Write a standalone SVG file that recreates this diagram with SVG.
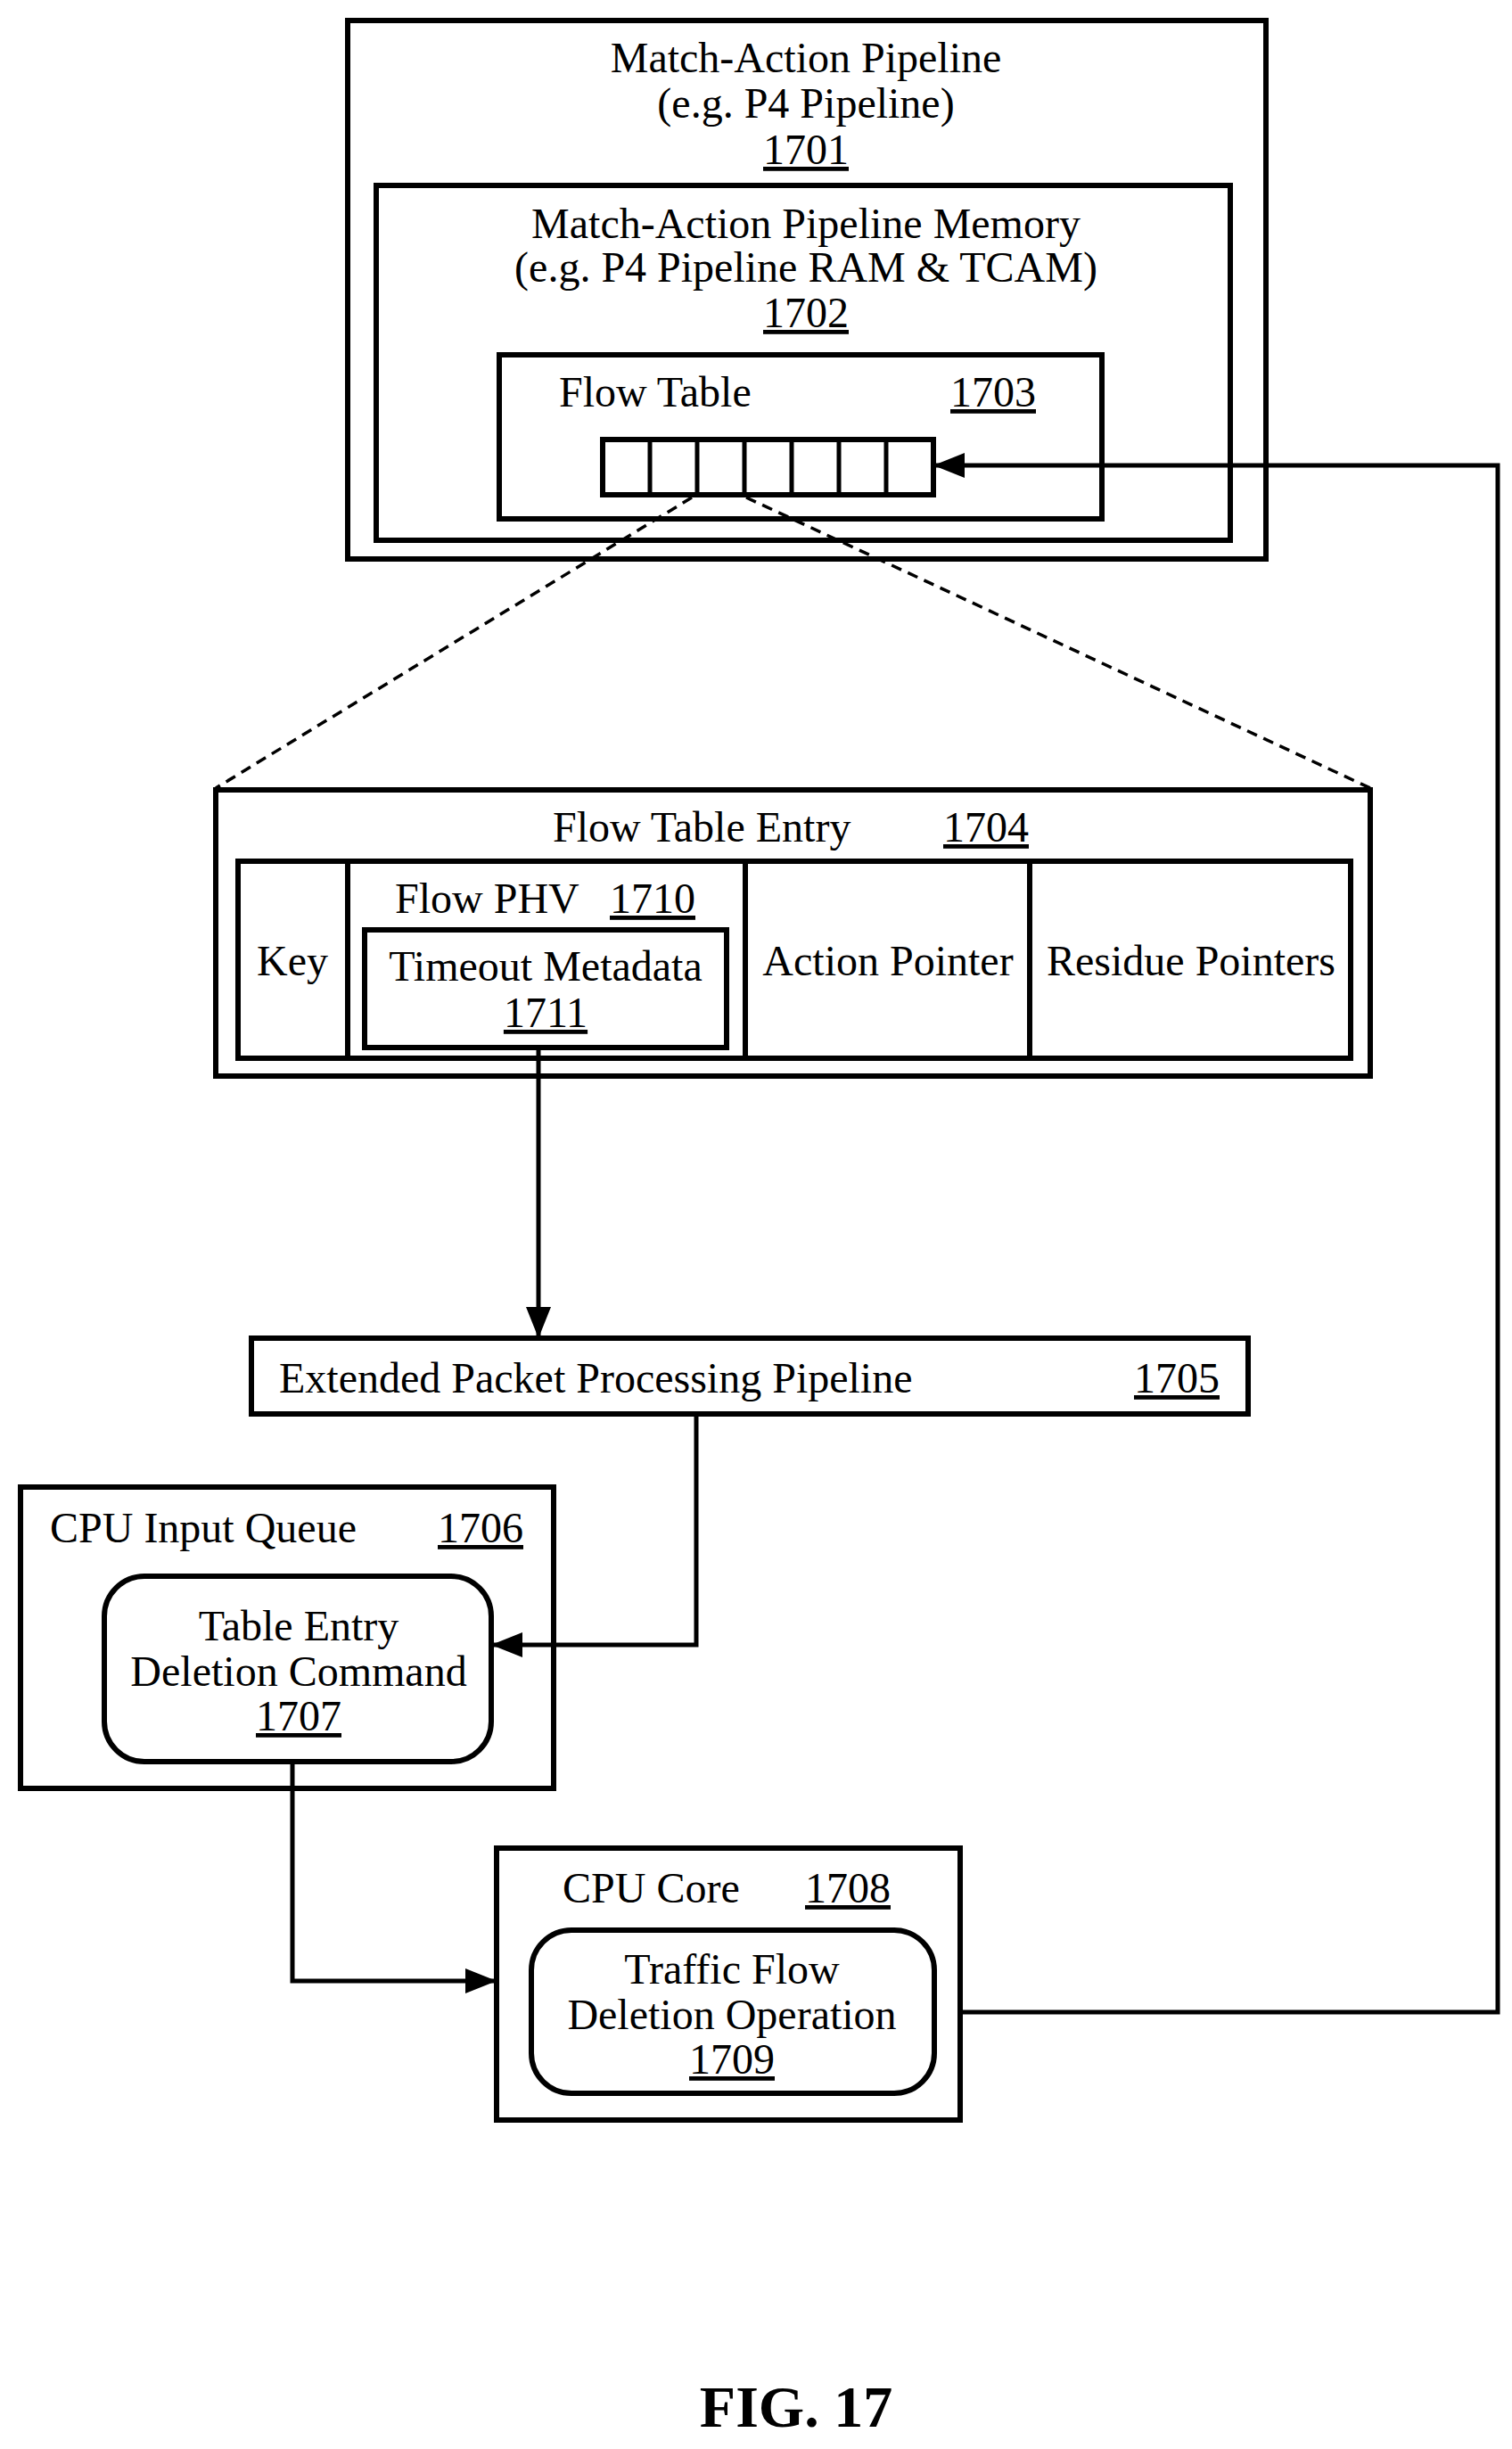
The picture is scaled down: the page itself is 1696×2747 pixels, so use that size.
<svg xmlns="http://www.w3.org/2000/svg" width="1696" height="2747" viewBox="0 0 1696 2747">
<style>
text{font-family:"Liberation Serif","Times New Roman",serif;font-size:48px;fill:#000}
.c{text-anchor:middle}
.b{fill:none;stroke:#000;stroke-width:6}
.l{fill:none;stroke:#000;stroke-width:5}
.d{fill:none;stroke:#000;stroke-width:3.5;stroke-dasharray:12,8}
</style>
<defs>
<marker id="ah" viewBox="0 0 10 8" refX="10" refY="4" markerWidth="40" markerHeight="28" orient="auto" markerUnits="userSpaceOnUse"><path d="M0,0L10,4L0,8z"/></marker></defs>
<g id="n1701"><rect class="b" x="390" y="23" width="1030" height="604"/>
<text class="c" x="904" y="81">Match-Action Pipeline</text><text class="c" x="904" y="132">(e.g. P4 Pipeline)</text><text class="c" x="904" y="184" text-decoration="underline">1701</text></g>
<g id="n1702"><rect class="b" x="422" y="208" width="958" height="398"/>
<text class="c" x="904" y="267">Match-Action Pipeline Memory</text><text class="c" x="904" y="316">(e.g. P4 Pipeline RAM &amp; TCAM)</text><text class="c" x="904" y="367" text-decoration="underline">1702</text></g>
<g id="n1703"><rect class="b" x="560" y="398" width="676" height="184"/>
<text x="627" y="456">Flow Table</text><text x="1066" y="456" text-decoration="underline">1703</text>
<rect class="b" x="676" y="493" width="371" height="62"/>
<path class="l" d="M729,493V555M782,493V555M835,493V555M888,493V555M941,493V555M994,493V555"/></g>
<g id="n1704"><rect class="b" x="242" y="886" width="1295" height="321"/>
<rect class="b" x="267" y="966" width="1248" height="221"/>
<path class="b" d="M390,966V1187M836,966V1187M1155,966V1187"/>
<text x="620" y="944">Flow Table Entry</text><text x="1058" y="944" text-decoration="underline">1704</text>
<text class="c" x="328" y="1094">Key</text>
<text x="443" y="1024">Flow PHV</text><text x="684" y="1024" text-decoration="underline">1710</text>
<text class="c" x="996" y="1094">Action Pointer</text><text class="c" x="1336" y="1094">Residue Pointers</text></g>
<g id="n1711"><rect class="b" x="409" y="1043" width="406" height="132"/>
<text class="c" x="612" y="1100">Timeout Metadata</text><text class="c" x="612" y="1152" text-decoration="underline">1711</text></g>
<g id="n1705"><rect class="b" x="282" y="1501" width="1118" height="85"/>
<text x="313" y="1562">Extended Packet Processing Pipeline</text><text x="1368" y="1562" text-anchor="end" text-decoration="underline">1705</text></g>
<g id="n1706"><rect class="b" x="23" y="1668" width="598" height="338"/>
<text x="56" y="1730">CPU Input Queue</text><text x="491" y="1730" text-decoration="underline">1706</text></g>
<g id="n1707"><rect class="b" x="117" y="1768" width="434" height="208" rx="45"/>
<text class="c" x="335" y="1840">Table Entry</text><text class="c" x="335" y="1891">Deletion Command</text><text class="c" x="335" y="1941" text-decoration="underline">1707</text></g>
<g id="n1708"><rect class="b" x="557" y="2073" width="520" height="305"/>
<text x="631" y="2134">CPU Core</text><text x="903" y="2134" text-decoration="underline">1708</text></g>
<g id="n1709"><rect class="b" x="596" y="2165" width="452" height="183" rx="45"/>
<text class="c" x="821" y="2225">Traffic Flow</text><text class="c" x="821" y="2276">Deletion Operation</text><text class="c" x="821" y="2326" text-decoration="underline">1709</text></g>
<g id="connectors">
<path class="d" d="M776,558L242,884M837,558L1537,884"/>
<path class="l" d="M604,1175V1501" marker-end="url(#ah)"/>
<path class="l" d="M781,1586V1845H551" marker-end="url(#ah)"/>
<path class="l" d="M328,1976V2222H557" marker-end="url(#ah)"/>
<path class="l" d="M1077,2257H1680V522H1047" marker-end="url(#ah)"/>
</g>
<text class="c" x="893" y="2722" style="font-size:66px;font-weight:bold">FIG. 17</text>
</svg>
